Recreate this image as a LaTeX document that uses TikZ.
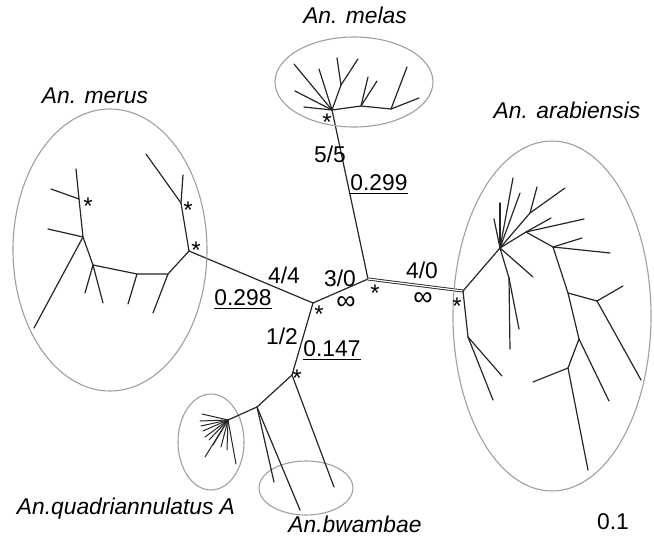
\documentclass[tikz,border=0pt]{standalone}
\usepackage{fontspec}
\setmainfont{Liberation Sans}
\usetikzlibrary{calc}
\tikzset{
    branch/.style={line width=0.6pt, black!85, line cap=round},
    clade/.style={draw=gray!75, line width=0.55pt},
    taxon/.style={font=\itshape\fontsize{11.4}{13}\selectfont, inner sep=0pt},
    support/.style={font=\fontsize{11.4}{13}\selectfont, inner sep=0pt},
    boot/.style={font=\fontsize{12}{13}\selectfont, inner sep=0pt, yshift=-2.6pt}
}

\begin{document}
\begin{tikzpicture}[x=0.5pt, y=-0.5pt]
    \useasboundingbox (0,0) rectangle (654,540);

    % Основные узлы
    \coordinate (c1) at (313,303);
    \coordinate (c2) at (368,279);
    \coordinate (a0) at (463,291);
    \coordinate (m1) at (189,251);
    \coordinate (ml0) at (332,110);
    \coordinate (q0) at (292,375);

    \draw[branch] (m1) -- (c1) -- (c2);
    \draw[branch] (c1) -- (q0);
    \draw[branch] (ml0) -- (c2);
    \draw[branch, line width=0.45pt, double=white, double distance=0.6pt] (c2) -- (a0);

    % An. merus
    \draw[clade] (110,250) ellipse [x radius=48.5pt, y radius=70.5pt];
    \coordinate (m2) at (181,203);
    \coordinate (m3) at (168,274);
    \coordinate (m4) at (137,274);
    \coordinate (m5) at (93,265);
    \coordinate (m6) at (83,237);
    \coordinate (m7) at (79,199);
    \draw[branch] (m1) -- (m2);
    \draw[branch] (m1) -- (m3) -- (m4) -- (m5) -- (m6) -- (m7);
    \foreach \p in {(183,175), (146,154)} \draw[branch] (m2) -- \p;
    \draw[branch] (m3) -- (153,313);
    \draw[branch] (m4) -- (128,304);
    \foreach \p in {(85,293), (103,303)} \draw[branch] (m5) -- \p;
    \foreach \p in {(48,229), (34,328)} \draw[branch] (m6) -- \p;
    \foreach \p in {(51,189), (76,169)} \draw[branch] (m7) -- \p;

    % An. melas
    \draw[clade] (354,82) ellipse [x radius=39.5pt, y radius=22.5pt];
    \coordinate (ml1) at (341,85);
    \coordinate (ml2) at (361,106);
    \coordinate (ml3) at (391,109);
    \draw[branch] (ml0) -- (ml1);
    \draw[branch] (ml0) -- (ml2) -- (ml3);
    \foreach \p in {(294,64), (295,91), (304,107), (319,69)} \draw[branch] (ml0) -- \p;
    \foreach \p in {(337,58), (358,59)} \draw[branch] (ml1) -- \p;
    \foreach \p in {(368,77), (377,81)} \draw[branch] (ml2) -- \p;
    \foreach \p in {(407,67), (419,98)} \draw[branch] (ml3) -- \p;

    % An. arabiensis
    \draw[clade] (552,316) ellipse [x radius=49.5pt, y radius=87.5pt];
    \coordinate (a1) at (468,337);
    \coordinate (a2) at (500,248);
    \coordinate (a3) at (509,278);
    \coordinate (a4) at (530,213);
    \coordinate (a5) at (526,232);
    \coordinate (a6) at (553,247);
    \coordinate (a7) at (568,293);
    \coordinate (a8) at (597,301);
    \coordinate (a9) at (579,339);
    \coordinate (a10) at (568,368);
    \draw[branch] (a0) -- (a1);
    \draw[branch] (a0) -- (a2) -- (a3);
    \draw[branch] (a2) -- (a4);
    \draw[branch] (a2) -- (a5) -- (a6) -- (a7) -- (a9) -- (a10);
    \draw[branch] (a7) -- (a8);
    \foreach \p in {(502,376), (493,400)} \draw[branch] (a1) -- \p;
    \foreach \p in {(494,219), (500,203), (513,178), (520,193), (533,277)} \draw[branch] (a2) -- \p;
    \foreach \p in {(510,349), (519,329)} \draw[branch] (a3) -- \p;
    \foreach \p in {(537,187), (565,188)} \draw[branch] (a4) -- \p;
    \foreach \p in {(551,218), (584,219)} \draw[branch] (a5) -- \p;
    \foreach \p in {(582,238), (610,253)} \draw[branch] (a6) -- \p;
    \foreach \p in {(623,286), (641,380)} \draw[branch] (a8) -- \p;
    \draw[branch] (a9) -- (609,401);
    \foreach \p in {(533,382), (588,470)} \draw[branch] (a10) -- \p;

    % An. quadriannulatus A и An. bwambae
    \draw[clade] (211,442) ellipse [x radius=16.5pt, y radius=24pt];
    \draw[clade] (306,488) ellipse [x radius=23.5pt, y radius=13.5pt];
    \coordinate (q1) at (257,407);
    \coordinate (qa) at (228,420);
    \draw[branch] (q0) -- (q1) -- (qa);
    \draw[branch] (q0) -- (334,487);
    \foreach \p in {(274,482), (300,510)} \draw[branch] (q1) -- \p;
    \foreach \p in {(202,414), (200,421), (201,426), (203,431), (205,437), (209,440),
                    (213,445), (221,447), (227,450), (205,457), (236,464)}
        \draw[branch, line width=0.5pt] (qa) -- \p;

    % Звёздочки
    \foreach \p [count=\i] in {(88,201), (188,205), (196,245), (319,309),
                               (375,288), (457,301), (327,117), (297,373)}
        \node[boot] (s\i) at \p {*};

    % Подписи
    \node[taxon] (merus) at (95,96) {An. merus};
    \node[taxon] (melas) at (355,15) {An. melas};
    \node[taxon] (arab) at (567,110) {An. arabiensis};
    \node[taxon] (quad) at (126,509) {An.quadriannulatus A};
    \node[taxon] (bwam) at (355,524) {An.bwambae};
    \node[support] (scale) at (613,522) {0.1};

    \node[support] (ml) at (330,154) {5/5};
    \node[support] (mlv) at (379,185) {\underline{0.299}};
    \node[support] (mr) at (284,275) {4/4};
    \node[support] (mrv) at (243,300) {\underline{0.298}};
    \node[support] (cc) at (340,278) {3/0};
    \node[support, font=\fontsize{13.5}{14}\selectfont] (cci) at (346,303) {∞};
    \node[support] (ar) at (422,270) {4/0};
    \node[support, font=\fontsize{13.5}{14}\selectfont] (ari) at (423,299) {∞};
    \node[support] (qb) at (282,336) {1/2};
    \node[support] (qbv) at (332,351) {\underline{0.147}};
\end{tikzpicture}
\end{document}
